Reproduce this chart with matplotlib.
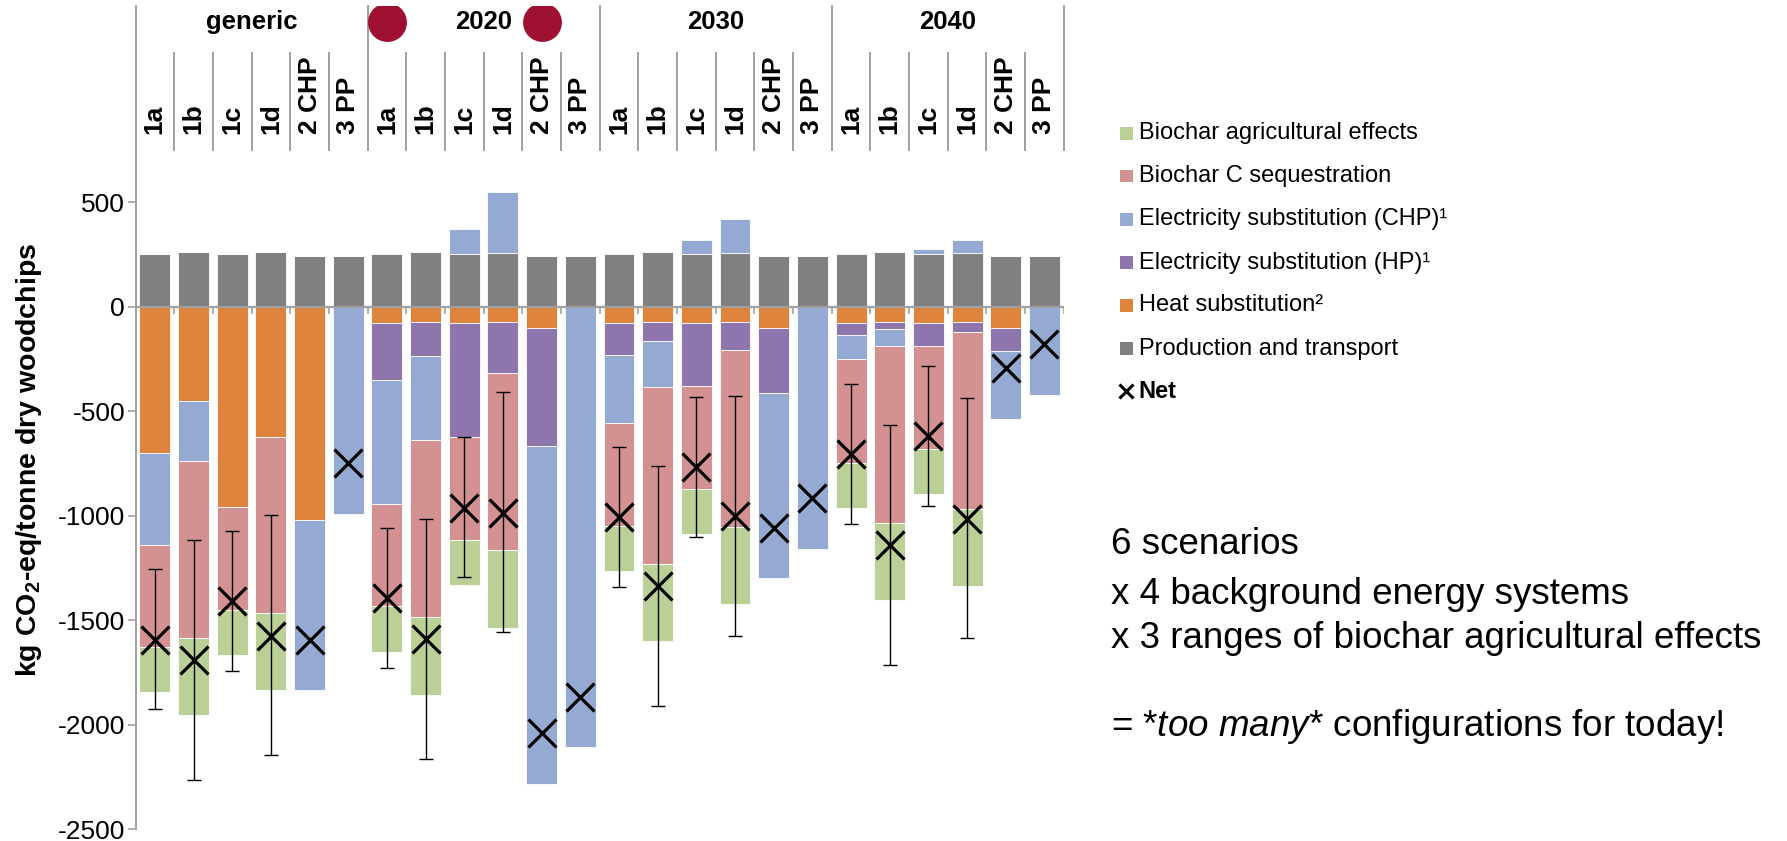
import numpy as np
import matplotlib
matplotlib.use('Agg')
import matplotlib.pyplot as plt
from matplotlib.patches import Rectangle
from matplotlib.lines import Line2D

plt.rcParams['font.family'] = ['Liberation Sans', 'DejaVu Sans']
plt.rcParams['mathtext.fontset'] = 'custom'
plt.rcParams['mathtext.rm'] = 'Liberation Sans'
plt.rcParams['mathtext.it'] = 'Liberation Sans:italic'
plt.rcParams['mathtext.bf'] = 'Liberation Sans:bold'

# ---------------- data ----------------
groups = ['generic', '2020', '2030', '2040']
scenarios = ['1a', '1b', '1c', '1d', '2 CHP', '3 PP']

production = [252, 260, 252, 260, 241, 241,
              252, 260, 251, 259, 241, 241,
              252, 260, 252, 259, 241, 241,
              252, 260, 252, 259, 241, 241]
heat = [-699, -453, -956, -621, -1020, 0,
        -80, -75, -80, -72, -101, 0,
        -80, -75, -80, -72, -101, 0,
        -80, -75, -80, -72, -101, 0]
elec_hp = [0, 0, 0, 0, 0, 0,
           -273, -160, -543, -247, -565, 0,
           -151, -88, -300, -136, -312, 0,
           -56, -32, -108, -49, -113, 0]
elec_chp = [-439, -286, 0, 0, -814, -991,
            -589, -405, 121, 289, -1615, -2106,
            -325, -223, 67, 159, -885, -1157,
            -116, -83, 24, 60, -322, -421]
biochar_c = [-490, -845, -494, -845, 0, 0,
             -492, -846, -495, -846, 0, 0,
             -493, -846, -493, -847, 0, 0,
             -495, -846, -494, -846, 0, 0]
biochar_ag = [-216, -370, -214, -370, 0, 0,
              -218, -371, -215, -371, 0, 0,
              -215, -368, -214, -367, 0, 0,
              -216, -366, -214, -368, 0, 0]
net = [-1593, -1692, -1408, -1573, -1593, -749,
       -1392, -1590, -963, -985, -2040, -1865,
       -1007, -1336, -766, -1001, -1058, -916,
       -706, -1141, -618, -1017, -294, -179]
err_high = [-1255, -1114, -1073, -996, None, None,
            -1060, -1015, -623, -409, None, None,
            -672, -760, -431, -425, None, None,
            -372, -564, -283, -439, None, None]
err_low = [-1925, -2262, -1743, -2144, None, None,
           -1729, -2163, -1292, -1555, None, None,
           -1341, -1911, -1102, -1573, None, None,
           -1041, -1712, -952, -1587, None, None]

yticks = [-2500, -2000, -1500, -1000, -500, 0, 500]

legend_labels = ['Biochar agricultural effects', 'Biochar C sequestration',
                 'Electricity substitution (CHP)\u00b9', 'Electricity substitution (HP)\u00b9',
                 'Heat substitution\u00b2', 'Production and transport']

notes = ['6 scenarios', 'x 4 background energy systems',
         'x 3 ranges of biochar agricultural effects',
         r'= *$\mathit{too\ many}$* configurations for today!']

# ---------------- style ----------------
C_AG = '#BBD096'
C_C = '#D49191'
C_CHP = '#94AAD2'
C_HP = '#8E75AC'
C_HEAT = '#DE843C'
C_PROD = '#808080'
C_LINE = '#A0A0A0'
C_DOT = '#9E1030'

W, H = 1787, 841
fig = plt.figure(figsize=(W / 100, H / 100), dpi=100)

ax_left, ax_right = 135.5, 1063.8
y_zero_px, y_min_px, y_top_px = 306.7, 829.3, 6.0
ppu = (y_min_px - y_zero_px) / 2500.0
ytop = (y_zero_px - y_top_px) / ppu


def py(ypx):
    return (y_zero_px - ypx) / ppu


ax = fig.add_axes([ax_left / W, (H - y_min_px) / H,
                   (ax_right - ax_left) / W, (y_min_px - y_top_px) / H])
n = len(production)
ax.set_xlim(0, n)
ax.set_ylim(-2500, ytop)
x = np.arange(n) + 0.5

series = [(production, C_PROD), (heat, C_HEAT), (elec_hp, C_HP),
          (elec_chp, C_CHP), (biochar_c, C_C), (biochar_ag, C_AG)]
pos_base = np.zeros(n)
neg_base = np.zeros(n)
for vals, col in series:
    v = np.asarray(vals, dtype=float)
    bottom = np.where(v >= 0, pos_base, neg_base)
    ax.bar(x, v, width=0.8, bottom=bottom, color=col, edgecolor='white',
           linewidth=0.6, zorder=2)
    pos_base = pos_base + np.where(v > 0, v, 0)
    neg_base = neg_base + np.where(v < 0, v, 0)

# error bars
idx = [i for i in range(n) if err_high[i] is not None]
ex = x[idx]
ey = np.array([net[i] for i in idx], dtype=float)
eh = np.array([err_high[i] for i in idx], dtype=float)
el = np.array([err_low[i] for i in idx], dtype=float)
ax.errorbar(ex, ey, yerr=[ey - el, eh - ey], fmt='none', ecolor='black',
            elinewidth=1.0, capsize=5, capthick=1.0, zorder=4)

# net markers
ax.plot(x, net, linestyle='none', marker='x', markersize=19.5, markeredgewidth=2.3,
        color='black', zorder=5)

# axes styling
for s in ['top', 'right', 'bottom']:
    ax.spines[s].set_visible(False)
ax.spines['left'].set_color(C_LINE)
ax.spines['left'].set_linewidth(1.4)
ax.set_xticks([])
ax.set_yticks(yticks)
ax.set_yticklabels([str(t) for t in yticks], fontsize=19)
ax.tick_params(axis='y', direction='out', length=6, width=1.2, color=C_LINE, pad=1.5)

# zero line and its small ticks
ax.plot([0, n], [0, 0], color=C_LINE, lw=1.6, zorder=3, solid_capstyle='butt')
for b in range(1, n + 1):
    ax.plot([b, b], [0, py(y_zero_px + 6.5)], color=C_LINE, lw=1.2, zorder=3)

# header structure
ng = len(groups)
ns = len(scenarios)
for g in range(1, ng + 1):
    ax.plot([g * ns, g * ns], [py(150), ytop], color=C_LINE, lw=1.4, clip_on=False)
for b in range(n):
    if b % ns != 0:
        ax.plot([b, b], [py(150), py(53)], color=C_LINE, lw=1.4)

for i in range(n):
    ax.text(x[i], py(134), scenarios[i % ns], rotation=90, ha='center', va='bottom',
            fontsize=19, fontweight='bold')
for g, name in enumerate(groups):
    ax.text(g * ns + ns / 2, py(22), name, ha='center', va='center',
            fontsize=18.5, fontweight='bold')
ax.plot([ns + 0.5, ns + 4.5], [py(22), py(22)], linestyle='none', marker='o',
        markersize=28, color=C_DOT, markeredgewidth=0, zorder=5)

# y label
fig.text(29 / W, 1 - 460 / H, r'kg CO$_\mathbf{2}$-eq/tonne dry woodchips', rotation=90,
         ha='center', va='center', fontsize=20.5, fontweight='bold')

# legend (manual)
leg_cols = [C_AG, C_C, C_CHP, C_HP, C_HEAT, C_PROD]
rows = [133.5, 176.0, 219.3, 262.7, 305.3, 348.7, 391.3]
sq = 12.7
for lab, col, yc in zip(legend_labels, leg_cols, rows):
    fig.patches.append(Rectangle((1120 / W, (H - yc - sq / 2) / H), sq / W, sq / H,
                                 transform=fig.transFigure, facecolor=col,
                                 edgecolor='none'))
    fig.text(1138.7 / W, 1 - yc / H, lab, ha='left', va='center', fontsize=17)
fig.add_artist(Line2D([1126 / W], [1 - rows[-1] / H], marker='x', markersize=10,
                      markeredgewidth=2.2, color='black', linestyle='none',
                      transform=fig.transFigure))
fig.text(1138.7 / W, 1 - rows[-1] / H, 'Net', ha='left', va='center', fontsize=17,
         fontweight='bold')

# notes
note_y = [545, 594, 639, 726]
for t, yc in zip(notes, note_y):
    fig.text(1111 / W, 1 - yc / H, t, ha='left', va='center', fontsize=26.5)

fig.savefig('out.png', dpi=100)
